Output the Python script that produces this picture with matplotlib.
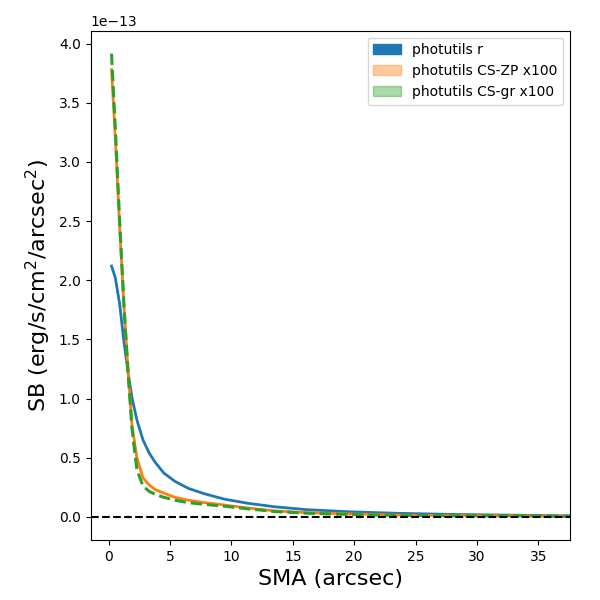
import matplotlib
matplotlib.use("Agg")
import matplotlib.pyplot as plt
import matplotlib.patches as mpatches

sma = [0.24, 0.55, 0.9, 1.25, 1.6, 1.9, 2.3, 2.8, 3.3, 3.8, 4.5, 5.4, 6.5, 7.8,
       9.4, 11.3, 13.5, 16.2, 19.5, 23.4, 28.0, 33.6, 37.57]
sb_r = [2.12, 2.02, 1.80, 1.48, 1.21, 1.01, 0.82, 0.65, 0.54, 0.46, 0.37, 0.30,
        0.24, 0.195, 0.15, 0.115, 0.085, 0.060, 0.043, 0.030, 0.020, 0.013, 0.008]
sb_zp = [3.78, 3.20, 2.45, 1.78, 1.21, 0.78, 0.50, 0.33, 0.27, 0.23, 0.20, 0.165,
         0.14, 0.12, 0.10, 0.075, 0.05, 0.035, 0.025, 0.015, 0.010, 0.008, 0.004]
sb_gr = [3.915, 3.28, 2.50, 1.79, 1.20, 0.75, 0.40, 0.26, 0.215, 0.19, 0.165, 0.14,
         0.12, 0.105, 0.09, 0.068, 0.045, 0.030, 0.020, 0.012, 0.008, 0.010, 0.004]
scale = 1e-13
labels = ["photutils r", "photutils CS-ZP x100", "photutils CS-gr x100"]

fig = plt.figure(figsize=(6, 6), dpi=100)
ax = fig.add_axes([0.151, 0.1, 0.799, 0.849])

ax.plot(sma, [v * scale for v in sb_r], color="C0", lw=2)
ax.plot(sma, [v * scale for v in sb_zp], color="C1", lw=2)
ax.plot(sma, [v * scale for v in sb_gr], color="C2", lw=2.2, ls="--")
ax.axhline(0, color="k", ls="--")

ax.set_xlim(-1.465, 37.57)
ax.set_ylim(-0.196e-13, 4.11e-13)
ax.set_xlabel("SMA (arcsec)", fontsize=16)
ax.set_ylabel("SB (erg/s/cm$^2$/arcsec$^2$)", fontsize=16)

handles = [mpatches.Patch(color="C0", alpha=1.0),
           mpatches.Patch(color="C1", alpha=0.4),
           mpatches.Patch(color="C2", alpha=0.4)]
ax.legend(handles, labels, loc="upper right")

fig.savefig("out.png", dpi=100)
